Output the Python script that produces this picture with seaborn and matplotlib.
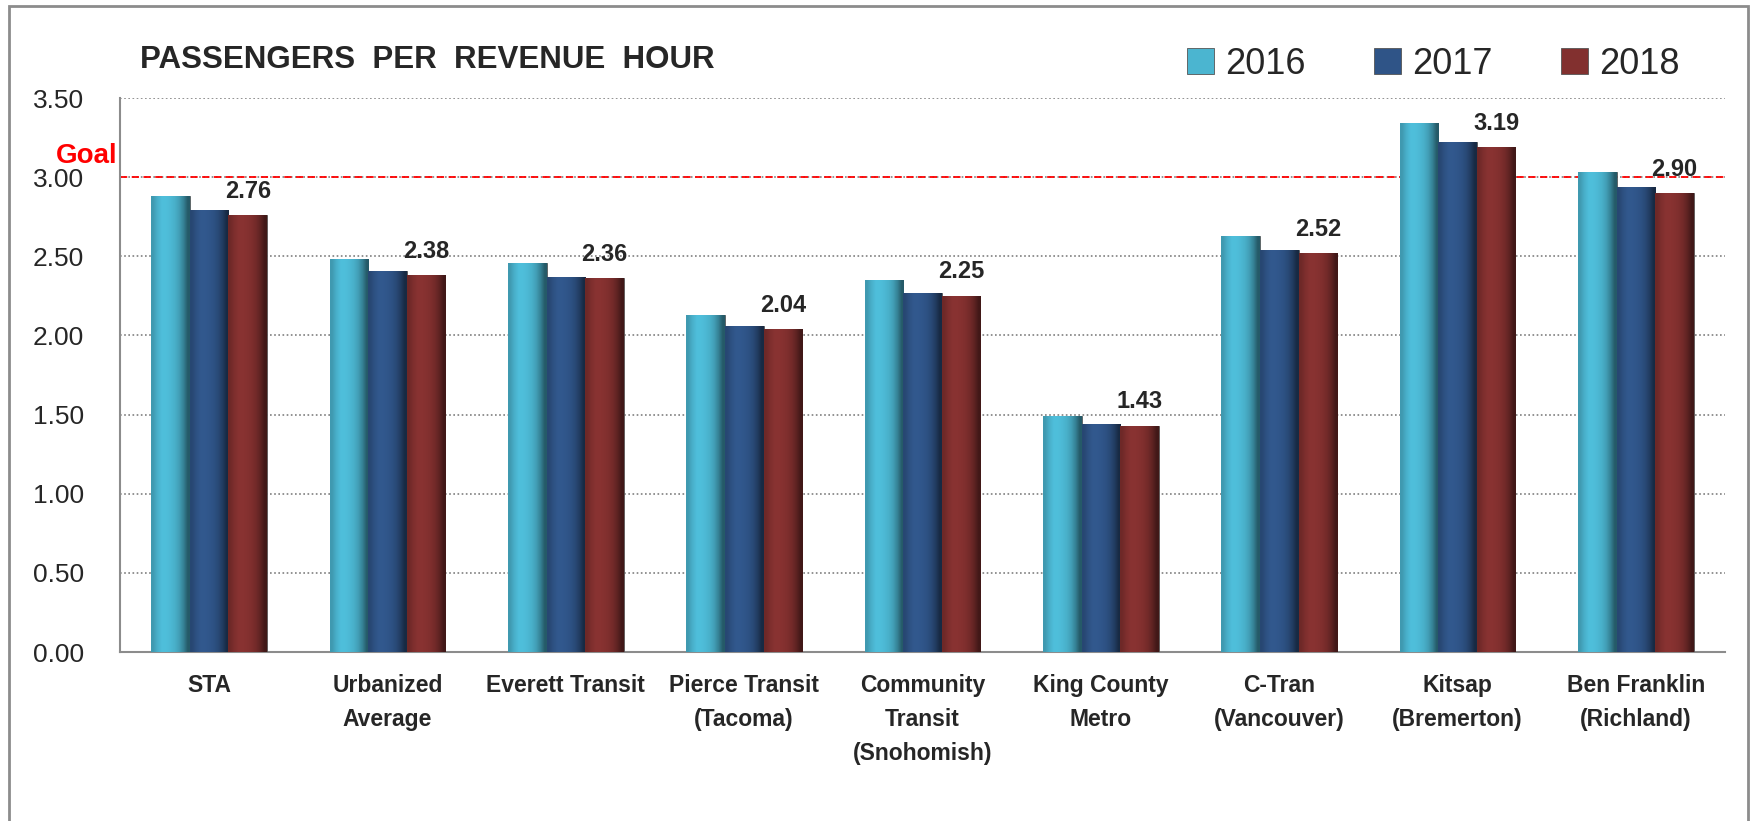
import numpy as np
import pandas as pd
import matplotlib.pyplot as plt
import seaborn as sns
from matplotlib.patches import Rectangle
from matplotlib.colors import to_rgb

# Donnees
agencies = ["STA", "Urbanized\nAverage", "Everett Transit", "Pierce Transit\n(Tacoma)",
            "Community\nTransit\n(Snohomish)", "King County\nMetro", "C-Tran\n(Vancouver)",
            "Kitsap\n(Bremerton)", "Ben Franklin\n(Richland)"]
years = ["2016", "2017", "2018"]
pph_2016 = [2.88, 2.48, 2.46, 2.13, 2.35, 1.49, 2.63, 3.34, 3.03]
pph_2017 = [2.79, 2.41, 2.37, 2.06, 2.27, 1.44, 2.54, 3.22, 2.94]
pph_2018 = [2.76, 2.38, 2.36, 2.04, 2.25, 1.43, 2.52, 3.19, 2.90]
goal = 3.00
y_ticks = [0.0, 0.5, 1.0, 1.5, 2.0, 2.5, 3.0, 3.5]

colors = ["#4BB5D0", "#2F5487", "#82302F"]

df = pd.DataFrame({
    "agency": agencies * 3,
    "year": [y for y in years for _ in agencies],
    "value": pph_2016 + pph_2017 + pph_2018,
})

sns.set_style("white")
plt.rcParams['font.family'] = ['Liberation Sans', 'DejaVu Sans']

fig = plt.figure(figsize=(17.52, 8.21), dpi=100)
ax = fig.add_axes([0.0685, 0.2058, 0.9161, 0.6748])

ax.axhline(goal, color="#ff0000", linestyle=(0, (4, 2.5)), linewidth=1.3, zorder=1)
sns.barplot(data=df, x="agency", y="value", hue="year", palette=colors, saturation=1,
            width=0.65, edgecolor="#555555", linewidth=0.6, ax=ax, zorder=3)

# effet "cylindre" : degrade horizontal sur chaque barre
shade = np.array([0.85, 0.97, 1.05, 1.05, 1.02, 0.97, 0.88, 0.72, 0.5])
for cont, col in zip(ax.containers, colors):
    base = np.array(to_rgb(col))
    img = np.clip(shade[None, :, None] * base[None, None, :], 0, 1)
    for p in cont:
        x0, w, h = p.get_x(), p.get_width(), p.get_height()
        im = ax.imshow(img, extent=[x0, x0 + w, 0, h], aspect="auto",
                       interpolation="bilinear", zorder=3.5)
        im.set_clip_path(p)

ax.set_ylim(0, 3.5)
ax.set_xlim(-0.5, len(agencies) - 0.5)
ax.set_yticks(y_ticks)
ax.set_yticklabels([f"{t:.2f}" for t in y_ticks], fontsize=19)
ax.yaxis.grid(True, linestyle=(0, (1, 1.5)), color="#7f7f7f", linewidth=1.2)
ax.set_axisbelow(True)
ax.set_xlabel("")
ax.set_ylabel("")

for s in ["top", "right"]:
    ax.spines[s].set_visible(False)
for s in ["left", "bottom"]:
    ax.spines[s].set_color("#8c8c8c")
    ax.spines[s].set_linewidth(1.5)

ax.tick_params(axis="y", length=6, color="#8c8c8c", width=1.5, pad=20)
ax.tick_params(axis="x", which="major", length=0, pad=16)
ax.set_xticks([i - 0.5 for i in range(len(agencies) + 1)], minor=True)
ax.tick_params(axis="x", which="minor", length=10, color="#8c8c8c", width=1.5)
for lbl in ax.get_xticklabels():
    lbl.set_fontsize(16.5)
    lbl.set_fontweight("bold")
    lbl.set_linespacing(1.6)

# etiquettes 2018
ax.bar_label(ax.containers[2], fmt="%.2f", padding=9, fontsize=17, fontweight="bold")

ax.annotate("Goal", xy=(0, goal), xycoords=("axes fraction", "data"), xytext=(-2, 6),
            textcoords="offset points", ha="right", va="bottom", color="#ff0000",
            fontsize=20, fontweight="bold")

handles, labels = ax.get_legend_handles_labels()
ax.legend_.remove()
fig.legend(handles, labels, loc="center", bbox_to_anchor=(0.818, 0.922), ncol=3,
           frameon=False, fontsize=26, handlelength=0.75, handleheight=0.7,
           handletextpad=0.3, columnspacing=1.9)

fig.text(140 / 1752, 1 - 60 / 821, "PASSENGERS  PER  REVENUE  HOUR", ha="left", va="center",
         fontsize=22.5, fontweight="bold")

fig.add_artist(Rectangle((9 / 1752, -0.02), 1739 / 1752, 1 - 6 / 821 + 0.02,
                         transform=fig.transFigure, fill=False, edgecolor="#8c8c8c",
                         linewidth=2))

fig.savefig("out.png", dpi=100)
